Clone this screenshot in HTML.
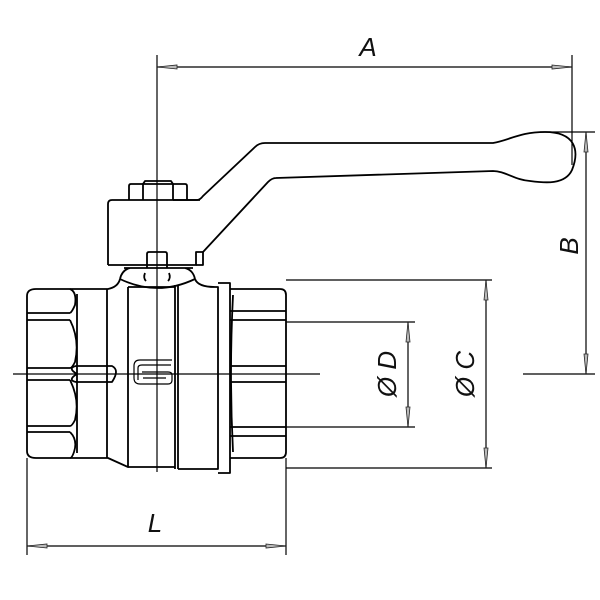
<!DOCTYPE html>
<html><head><style>html,body{margin:0;padding:0;background:#fff}svg{display:block}</style></head>
<body>
<svg width="600" height="600" viewBox="0 0 600 600" xmlns="http://www.w3.org/2000/svg">
<defs>
<marker id="ah" markerWidth="22" markerHeight="8" refX="21" refY="4" orient="auto-start-reverse" markerUnits="userSpaceOnUse">
<path d="M1,2 L21,4 L1,6 Z" fill="#bbb" stroke="#222" stroke-width="0.8"/>
</marker>
</defs>
<g fill="none" stroke="#000" stroke-width="1.8" stroke-linejoin="round">
<line x1="13" y1="374" x2="320" y2="374" stroke-width="1.2"/>
<line x1="157" y1="55" x2="157" y2="472" stroke-width="1.2"/>
<path d="M173,200 L197,200 Q200,200 203,196 L255,147 Q259,143 265,143 L493,143 C510,140 520,132 545,132 C575,132 580,150 572,170 C565,185 545,183 530,181 C515,180 505,171 493,171 L276,178 Q272,178 268,182 L203,252"/>
<path d="M129,200 L129,186 Q129,184 131,184 L185,184 Q187,184 187,186 L187,200"/>
<path d="M143,200 L143,184 M173,200 L173,184 M143,184 L145,181 L171,181 L173,184"/>
<path d="M108,265 L108,204 Q108,200 112,200 L200,200 M203,252 L196,252 L196,265 L108,265"/>
<path d="M196,265 L203,265 L203,252"/>
<path d="M147,268 L147,254 Q147,252 149,252 L165,252 Q167,252 167,254 L167,268"/>
<path d="M124,268 L193,268 M120,279 Q122,270 130,268 M195,279 Q193,270 185,268 M120,279 Q157,297 195,279"/>
<path d="M145,273 Q143,278 146,281 M169,273 Q171,278 168,281"/>
<path d="M120,279 Q118,287 108,289 L36,289 Q27,289 27,296 L27,451 Q27,458 36,458 L108,458 L128,467 L128,287"/>
<path d="M27,313 L70,313 M27,320 L70,320 M27,432 L70,432 M27,426 L70,426 M27,368 L70,368 M27,380 L70,380"/>
<path d="M70,289 Q77,292 75,305 Q72,312 70,313 M70,320 Q80,340 75,362 Q72,368 70,368 M70,380 Q80,400 75,420 Q72,426 70,426 M70,432 Q78,440 74,452 Q72,458 70,458"/>
<path d="M77,294 L77,453 M107,289 L107,458"/>
<path d="M77,374 Q67,368 76,366 L112,366 Q120,370 112,382 L76,382 Q67,380 77,374"/>
<path d="M128,287 L175,287 M128,467 L175,467 M175,285 L175,469 M178,285 L178,469 M195,279 Q198,287 215,287 L218,287 L218,469 L178,469"/>
<path d="M218,283 L230,283 L230,473 L218,473 M230,289 L280,289 Q286,289 286,295 L286,452 Q286,458 280,458 L230,458"/>
<path d="M230,311 L286,311 M230,320 L286,320 M230,427 L286,427 M230,436 L286,436 M230,366 L286,366 M230,382 L286,382"/>
<path d="M233,295 Q229,374 233,452"/>
<path d="M172,360 L140,360 Q134,360 134,366 L134,378 Q134,384 140,384 L168,384 Q172,384 172,380 L172,375 Q172,372 168,372 L142,372 M138,380 L138,368 Q138,365 142,365 L171,365 M143,378 L166,378" stroke-width="1.2"/>
<path d="M286,280 L492,280 M286,468 L492,468 M286,322 L415,322 M286,427 L415,427 M540,132 L595,132 M523,374 L595,374 M572,55 L572,165 M27,458 L27,555 M286,458 L286,555" stroke-width="1.2"/>
<g stroke-width="1.2">
<line x1="157" y1="67" x2="572" y2="67" marker-start="url(#ah)" marker-end="url(#ah)"/>
<line x1="586" y1="132" x2="586" y2="374" marker-start="url(#ah)" marker-end="url(#ah)"/>
<line x1="486" y1="280" x2="486" y2="468" marker-start="url(#ah)" marker-end="url(#ah)"/>
<line x1="408" y1="322" x2="408" y2="427" marker-start="url(#ah)" marker-end="url(#ah)"/>
<line x1="27" y1="546" x2="286" y2="546" marker-start="url(#ah)" marker-end="url(#ah)"/>
</g>
</g>
<g font-family="Liberation Sans, sans-serif" font-style="italic" font-size="26" fill="#111">
<text x="368" y="56" text-anchor="middle">A</text>
<text x="155" y="532" text-anchor="middle">L</text>
<text transform="translate(578,246) rotate(-90)" text-anchor="middle">B</text>
<text transform="translate(474,374) rotate(-90)" text-anchor="middle">Ø C</text>
<text transform="translate(396,374) rotate(-90)" text-anchor="middle">Ø D</text>
</g>
</svg>
</body></html>
